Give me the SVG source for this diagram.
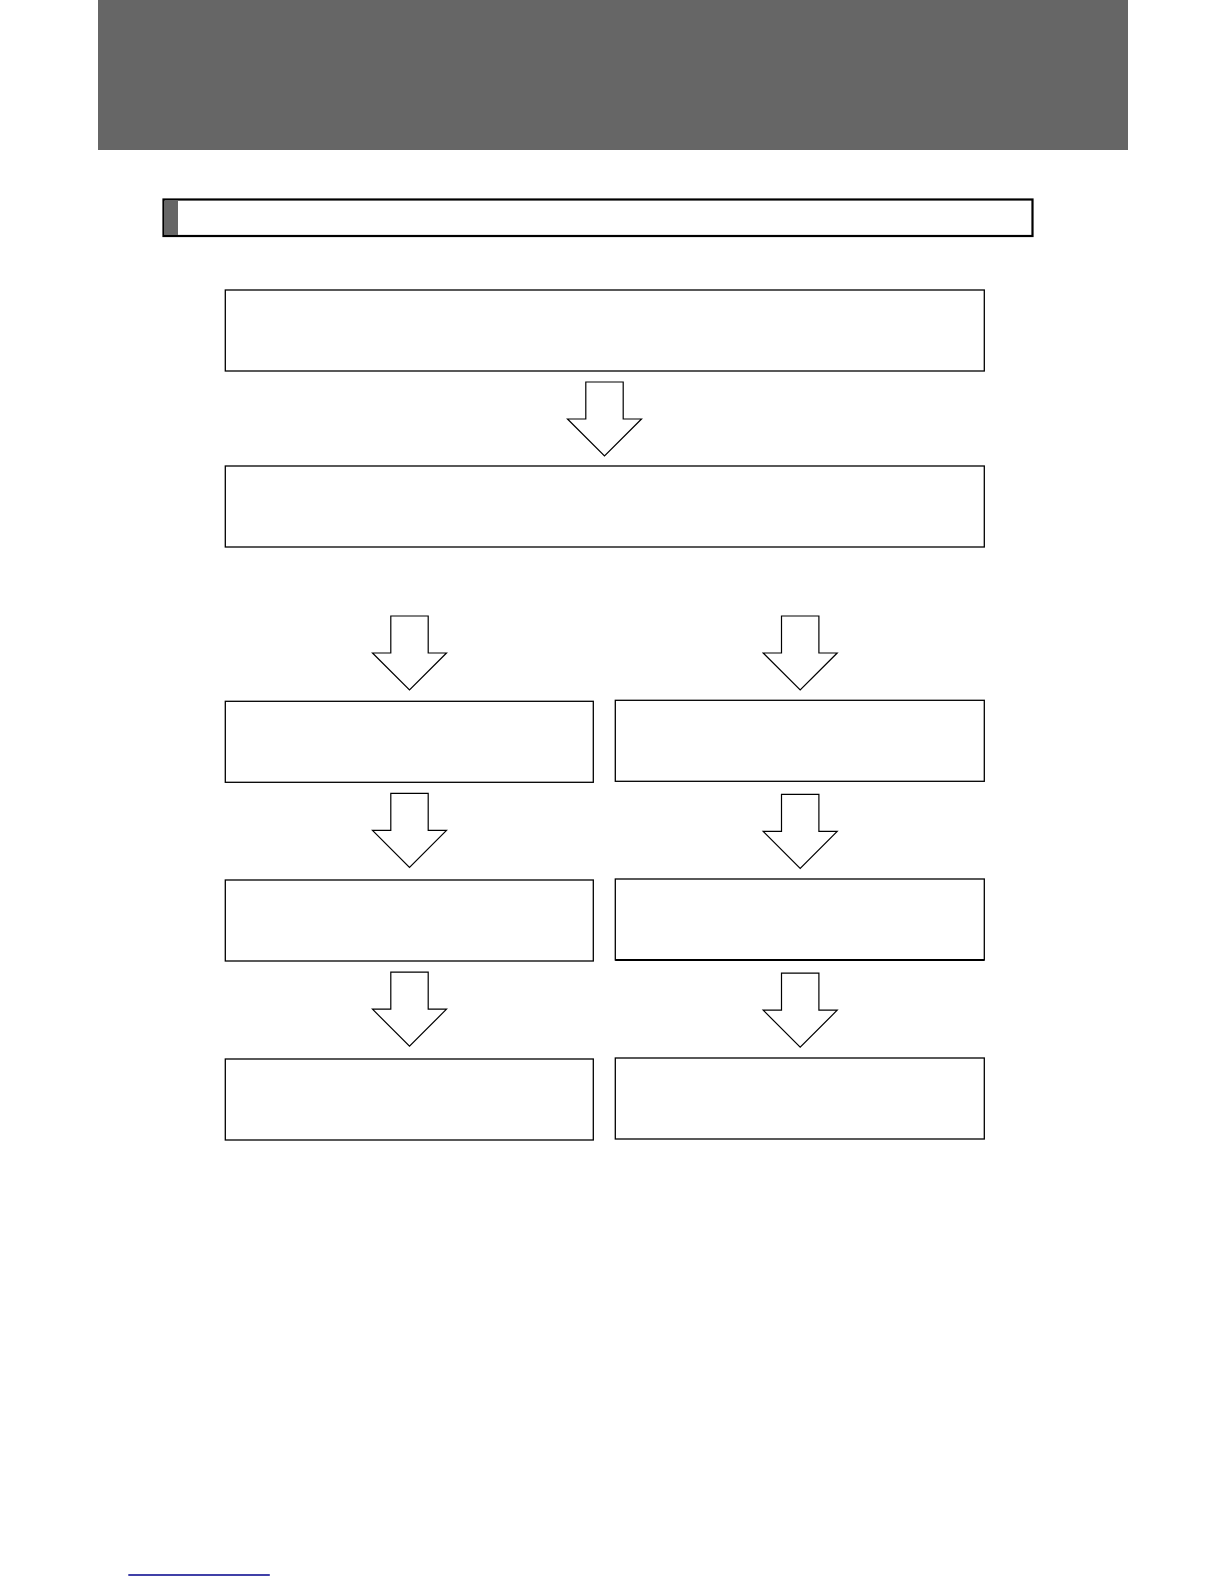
<svg xmlns="http://www.w3.org/2000/svg" width="1224" height="1584" viewBox="0 0 1224 1584">
<style>
.box{fill:#fff;stroke:#000;stroke-width:1.3}
.arr{fill:#fff;stroke:#000;stroke-width:1.2;stroke-linejoin:miter}
</style>
<defs>
<path id="arrow" d="M-18.7,0 H18.7 V37 H37 L0,74 L-37,37 H-18.7 Z"/>
</defs>
<rect width="1224" height="1584" fill="#fff"/>
<rect id="header" x="98" y="0" width="1030" height="150" fill="#666"/>
<g id="titlebar">
<rect x="163.5" y="199.5" width="869" height="36.5" fill="#fff" stroke="#000" stroke-width="2.2"/>
<rect x="164.5" y="200.5" width="13.5" height="34.5" fill="#666"/>
</g>
<g id="n1"><rect class="box" x="225.3" y="290" width="759" height="81"/></g>
<g id="n2"><rect class="box" x="225.3" y="466" width="759" height="81"/></g>
<g id="n3"><rect class="box" x="225.3" y="701.3" width="368" height="81"/></g>
<g id="n4"><rect class="box" x="615.3" y="700.3" width="369" height="81"/></g>
<g id="n5"><rect class="box" x="225.3" y="880" width="368" height="81"/></g>
<g id="n6"><rect class="box" x="615.3" y="879" width="369" height="81"/><line x1="615.3" y1="960" x2="984.3" y2="960" stroke="#000" stroke-width="2"/></g>
<g id="n7"><rect class="box" x="225.3" y="1059" width="368" height="81"/></g>
<g id="n8"><rect class="box" x="615.3" y="1058" width="369" height="81"/></g>
<g id="connectors">
<use href="#arrow" class="arr" transform="translate(604.5,382)"/>
<use href="#arrow" class="arr" transform="translate(409.5,616)"/>
<use href="#arrow" class="arr" transform="translate(800.2,616)"/>
<use href="#arrow" class="arr" transform="translate(409.5,793.3)"/>
<use href="#arrow" class="arr" transform="translate(800.2,794.3)"/>
<use href="#arrow" class="arr" transform="translate(409.5,972.2)"/>
<use href="#arrow" class="arr" transform="translate(800.2,973.2)"/>
</g>
<line x1="128.3" y1="1575" x2="269.8" y2="1575" stroke="#00008b" stroke-width="1.3"/>
</svg>
